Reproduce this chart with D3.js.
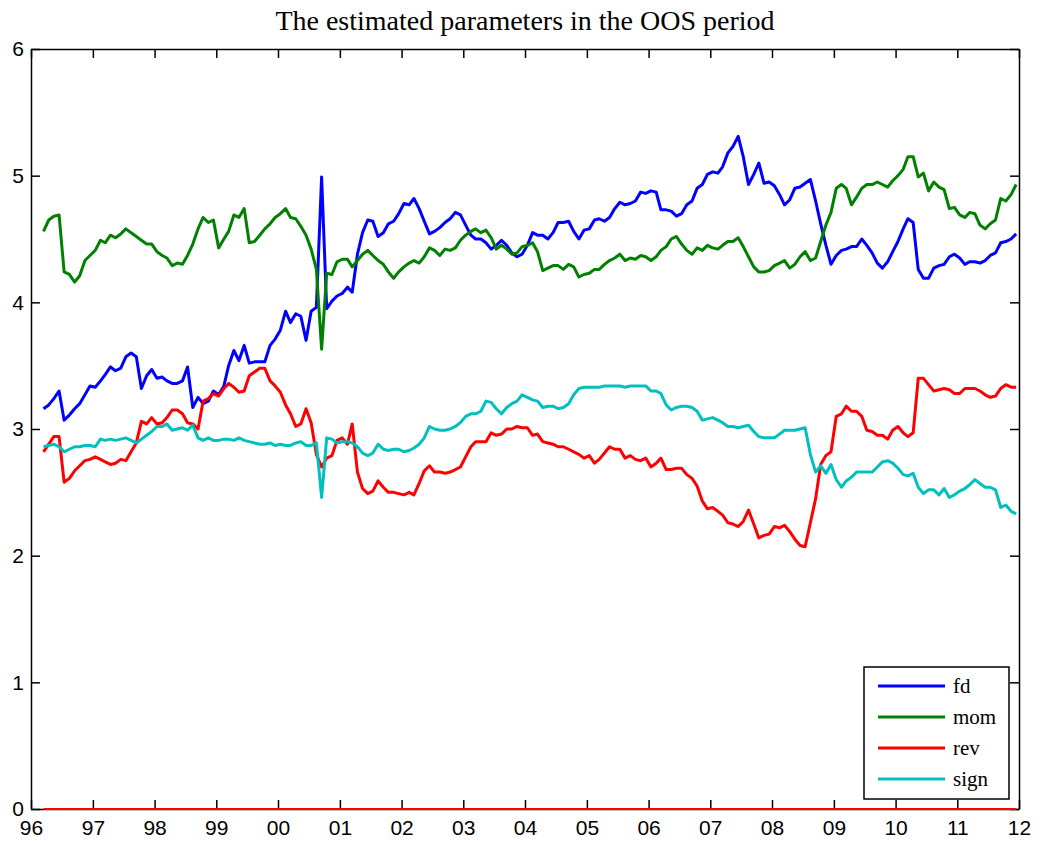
<!DOCTYPE html>
<html>
<head>
<meta charset="utf-8">
<script src="https://cdn.jsdelivr.net/npm/d3@7/dist/d3.min.js"></script>
<style>
  body { margin: 0; background: #fff; }
  .axis text { font-family: "Liberation Sans", Arial, sans-serif; font-size: 21px; fill: #000; }
  .axis path, .axis line { stroke: #000; stroke-width: 1.5; }
</style>
</head>
<body>
<svg id="chart" width="1043" height="841"></svg>
<script>
// series names and colours (MATLAB defaults)
const seriesNames = ["fd", "mom", "rev", "sign"];
const seriesColors = ["#0000ff", "#008000", "#ff0000", "#00bfbf"];

// monthly estimates, Mar 1996 .. Dec 2011
const fd = [
  3.16,3.19,3.24,3.30,3.07,3.11,3.16,3.20,3.27,3.34, 3.33,3.38,3.43,3.49,3.46,3.48,3.57,3.60,3.57,3.32,
  3.42,3.47,3.40,3.41,3.38,3.36,3.36,3.38,3.49,3.17, 3.25,3.20,
  3.22,3.30,3.27,3.34,3.50,3.62,3.54,3.66, 3.52,3.53,3.53,3.53,3.66,3.71,3.78,3.93,3.84,3.91,
  3.89,3.70,3.93,3.96,4.99,3.95,4.01,4.05,4.07,4.12, 4.08,4.38,4.55,4.65,
  4.64,4.52,4.55,4.62,4.64,4.70, 4.78,4.77,4.82,4.74,4.64,4.54,4.56,4.59,4.63,4.66,
  4.71,4.69,4.61,4.53,4.50,4.50,4.47,4.42,4.45,4.49, 4.45,4.39,4.36,4.38,4.45,4.55,
  4.53,4.53,4.50,4.55, 4.63,4.63,4.64,4.56,4.50,4.57,4.58,4.65,4.66,4.64,
  4.67,4.74,4.79,4.77,4.78,4.80,4.87,4.86,4.88,4.87, 4.73,4.73,4.72,4.68,4.70,4.77,4.80,4.90,
  4.93,5.01, 5.03,5.02,5.07,5.18,5.23,5.31,5.15,4.93,5.01,5.10,
  4.94,4.95,4.92,4.85,4.77,4.81,4.90,4.91,4.94,4.97, 4.80,4.62,4.45,4.30,4.37,4.41,4.42,4.44,4.44,4.50,
  4.45,4.39,4.31,4.27,4.32,4.40,4.48,4.58,4.66,4.63, 4.26,4.19,4.19,4.27,4.29,4.30,4.36,4.38,4.35,4.30,
  4.32,4.32,4.31,4.33,4.37,4.39,4.47,4.48,4.50,4.54
];
const mom = [
  4.56,4.65,4.68,4.69,4.24,4.22,4.16,4.21,4.33,4.37, 4.41,4.49,4.47,4.53,4.51,4.54,4.58,4.55,4.52,4.49,
  4.46,4.46,4.40,4.37,4.35,4.29,4.31,4.30,4.37,4.46, 4.58,4.67,
  4.63,4.65,4.43,4.50,4.56,4.69,4.67,4.74, 4.47,4.48,4.53,4.58,4.62,4.67,4.70,4.74,4.67,4.66,
  4.60,4.53,4.42,4.26,3.63,4.23,4.22,4.32,4.34,4.34, 4.28,4.33,4.38,4.41,
  4.37,4.33,4.30,4.24,4.19,4.24, 4.28,4.31,4.33,4.31,4.36,4.43,4.41,4.37,4.42,4.41,
  4.43,4.49,4.53,4.56,4.58,4.55,4.57,4.51,4.42,4.45, 4.42,4.38,4.39,4.44,4.45,4.47,
  4.40,4.25,4.27,4.29, 4.29,4.26,4.30,4.28,4.20,4.22,4.23,4.26,4.26,4.30,
  4.33,4.35,4.38,4.33,4.35,4.34,4.37,4.36,4.33,4.36, 4.41,4.44,4.50,4.52,4.46,4.41,4.38,4.43,
  4.41,4.45, 4.43,4.42,4.45,4.48,4.48,4.51,4.44,4.36,4.28,4.24,
  4.24,4.25,4.29,4.31,4.33,4.27,4.30,4.36,4.40,4.33, 4.35,4.48,4.61,4.71,4.90,4.93,4.90,4.77,4.83,4.90,
  4.93,4.93,4.95,4.93,4.91,4.96,5.00,5.05,5.15,5.15, 4.99,5.02,4.88,4.95,4.91,4.89,4.74,4.75,4.69,4.67,
  4.71,4.70,4.61,4.58,4.62,4.65,4.82,4.80,4.85,4.93
];
const rev = [
  2.82,2.88,2.94,2.94,2.58,2.61,2.67,2.71,2.75,2.76, 2.78,2.76,2.74,2.72,2.73,2.76,2.75,2.82,2.89,3.06,
  3.04,3.09,3.04,3.05,3.09,3.15,3.15,3.12,3.05,3.04, 3.00,3.22,
  3.24,3.28,3.26,3.32,3.36,3.33,3.29,3.30, 3.42,3.45,3.48,3.48,3.38,3.34,3.29,3.19,3.12,3.02,
  3.04,3.16,3.05,2.80,2.70,2.77,2.79,2.91,2.93,2.88, 3.04,2.66,2.53,2.49,
  2.51,2.59,2.54,2.50,2.50,2.49, 2.48,2.50,2.48,2.57,2.67,2.71,2.66,2.66,2.65,2.66,
  2.68,2.70,2.78,2.86,2.90,2.90,2.90,2.97,2.95,2.96, 3.00,3.00,3.02,3.01,3.01,2.95,
  2.96,2.90,2.89,2.88, 2.86,2.86,2.84,2.82,2.80,2.77,2.79,2.73,2.76,2.81,
  2.86,2.84,2.84,2.77,2.79,2.76,2.75,2.77,2.70,2.73, 2.77,2.68,2.68,2.69,2.69,2.64,2.61,2.55,
  2.43,2.37, 2.38,2.35,2.32,2.26,2.25,2.23,2.27,2.36,2.25,2.14,
  2.16,2.17,2.23,2.22,2.24,2.19,2.13,2.08,2.07,2.26, 2.45,2.72,2.79,2.82,3.10,3.12,3.18,3.14,3.14,3.10,
  2.99,2.98,2.95,2.95,2.92,2.99,3.02,2.97,2.94,2.97, 3.40,3.40,3.35,3.30,3.31,3.32,3.31,3.28,3.28,3.32,
  3.32,3.32,3.30,3.27,3.25,3.26,3.32,3.35,3.33,3.33
];
const sign = [
  2.86,2.87,2.88,2.86,2.82,2.84,2.86,2.86,2.87,2.87, 2.86,2.92,2.91,2.92,2.91,2.92,2.93,2.91,2.89,2.92,
  2.95,2.98,3.02,3.02,3.04,2.99,3.00,3.01,2.99,3.03, 2.93,2.91,
  2.93,2.91,2.91,2.92,2.92,2.91,2.93,2.91, 2.90,2.89,2.88,2.88,2.89,2.87,2.88,2.87,2.87,2.89,
  2.90,2.87,2.87,2.89,2.46,2.93,2.92,2.89,2.90,2.90, 2.89,2.86,2.81,2.79,
  2.81,2.88,2.84,2.83,2.84,2.84, 2.82,2.83,2.85,2.88,2.93,3.02,3.00,2.99,2.99,3.00,
  3.02,3.05,3.10,3.12,3.12,3.14,3.22,3.21,3.16,3.12, 3.17,3.20,3.22,3.27,3.25,3.23,
  3.22,3.17,3.18,3.18, 3.16,3.17,3.20,3.27,3.32,3.33,3.33,3.33,3.33,3.34,
  3.34,3.34,3.34,3.33,3.34,3.34,3.34,3.34,3.30,3.30, 3.28,3.19,3.15,3.17,3.18,3.18,3.17,3.14,
  3.07,3.08, 3.09,3.07,3.05,3.02,3.02,3.01,3.02,3.03,2.98,2.94,
  2.93,2.93,2.93,2.96,2.99,2.99,2.99,3.00,3.01,2.80, 2.66,2.71,2.65,2.72,2.60,2.54,2.59,2.62,2.66,2.66,
  2.66,2.66,2.70,2.74,2.75,2.73,2.69,2.64,2.63,2.65, 2.54,2.49,2.52,2.52,2.48,2.53,2.46,2.48,2.51,2.53,
  2.56,2.60,2.57,2.54,2.54,2.52,2.38,2.40,2.35,2.33
];
// red zero reference line
const zeroLevel = 0;

const yTicks = [0, 1, 2, 3, 4, 5, 6];
const yearTicks = d3.range(1996, 2013);
const titleText = "The estimated parameters in the OOS period";

// one date per month, mid-month
const dates = fd.map((_, i) => new Date(1996, 2 + i, 15));
const allSeries = [fd, mom, rev, sign];

const svg = d3.select("#chart");
const plot = { left: 31, right: 1019, top: 49, bottom: 809 };

const x = d3.scaleTime()
    .domain([new Date(1996, 0, 1), new Date(2012, 0, 1)])
    .range([plot.left, plot.right]);
const y = d3.scaleLinear().domain([0, 6]).range([plot.bottom, plot.top]);

const tickDates = yearTicks.map(yr => new Date(yr, 0, 1));

// white plot background
svg.append("rect")
    .attr("x", plot.left).attr("y", plot.top)
    .attr("width", plot.right - plot.left).attr("height", plot.bottom - plot.top)
    .attr("fill", "#fff");

// axes with inward ticks on all four sides (matlab box)
svg.append("g").attr("class", "axis")
    .attr("transform", `translate(0,${plot.bottom})`)
    .call(d3.axisBottom(x).tickValues(tickDates).tickFormat(d3.timeFormat("%y"))
        .tickSizeInner(-9).tickSizeOuter(0).tickPadding(11));
svg.append("g").attr("class", "axis")
    .attr("transform", `translate(0,${plot.top})`)
    .call(d3.axisTop(x).tickValues(tickDates).tickFormat("")
        .tickSizeInner(-9).tickSizeOuter(0));
svg.append("g").attr("class", "axis")
    .attr("transform", `translate(${plot.left},0)`)
    .call(d3.axisLeft(y).tickValues(yTicks).tickFormat(d3.format("d"))
        .tickSizeInner(-9).tickSizeOuter(0).tickPadding(7));
svg.append("g").attr("class", "axis")
    .attr("transform", `translate(${plot.right},0)`)
    .call(d3.axisRight(y).tickValues(yTicks).tickFormat("")
        .tickSizeInner(-9).tickSizeOuter(0));

// lines
const line = d3.line()
    .x((d, i) => x(dates[i]))
    .y(d => y(d));

svg.append("path")
    .datum(dates.map(() => zeroLevel))
    .attr("d", line)
    .attr("fill", "none")
    .attr("stroke", "#ff0000")
    .attr("stroke-width", 2);

allSeries.forEach((vals, k) => {
    svg.append("path")
        .datum(vals)
        .attr("d", line)
        .attr("fill", "none")
        .attr("stroke", seriesColors[k])
        .attr("stroke-width", 3)
        .attr("stroke-linejoin", "round");
});

// title
svg.append("text")
    .attr("x", (plot.left + plot.right) / 2)
    .attr("y", 30)
    .attr("text-anchor", "middle")
    .attr("font-family", "'Liberation Serif', 'Times New Roman', serif")
    .attr("font-size", 28)
    .text(titleText);

// legend
const legend = svg.append("g").attr("transform", "translate(864,667)");
legend.append("rect")
    .attr("width", 145).attr("height", 132)
    .attr("fill", "#fff").attr("stroke", "#000").attr("stroke-width", 1.5);
seriesNames.forEach((name, k) => {
    const ly = 19 + k * 31;
    legend.append("line")
        .attr("x1", 14).attr("x2", 81).attr("y1", ly).attr("y2", ly)
        .attr("stroke", seriesColors[k]).attr("stroke-width", 3);
    legend.append("text")
        .attr("x", 89).attr("y", ly + 7)
        .attr("font-family", "'Liberation Serif', 'Times New Roman', serif")
        .attr("font-size", 21)
        .text(name);
});
</script>
</body>
</html>
